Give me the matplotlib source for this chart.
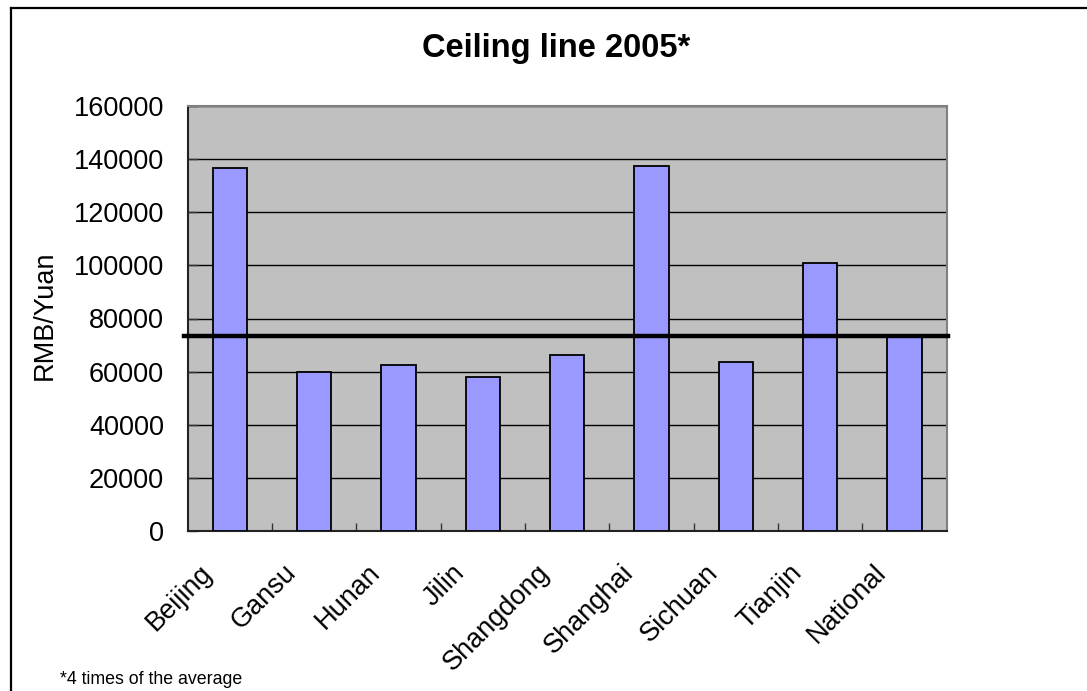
import matplotlib
matplotlib.use("Agg")
import matplotlib.pyplot as plt
from matplotlib.lines import Line2D
from matplotlib.transforms import ScaledTranslation
import numpy as np

categories = ["Beijing", "Gansu", "Hunan", "Jilin", "Shangdong", "Shanghai",
              "Sichuan", "Tianjin", "National"]
values = [136700, 59900, 62400, 58000, 66200, 137300, 63600, 100900, 73200]
ceiling = 73500
yticks = [0, 20000, 40000, 60000, 80000, 100000, 120000, 140000, 160000]

plt.rcParams['font.family'] = ['Liberation Sans', 'DejaVu Sans']

W, H = 1087, 691
fig = plt.figure(figsize=(W / 100, H / 100), dpi=100)
fig.patch.set_facecolor('white')

ax = fig.add_axes([187.7 / W, 1 - 531.3 / H, (946.7 - 187.7) / W, (531.3 - 105.7) / H])
ax.set_facecolor('#C0C0C0')

x = np.arange(len(categories))
ax.bar(x, values, width=0.41, color='#9999FF', edgecolor='black', linewidth=1.3, zorder=3)

ax.set_xlim(-0.5, len(categories) - 0.5)
ax.set_ylim(0, 160000)
ax.set_yticks(yticks)
ax.set_yticklabels([str(v) for v in yticks], fontsize=19.5)
ax.yaxis.grid(True, color='black', linewidth=1.0, zorder=1)
ax.set_axisbelow(True)

# ceiling line, slightly past the plot edges
ax.plot([-0.005, 1.002], [ceiling, ceiling], color='black', linewidth=3.2,
        transform=ax.get_yaxis_transform(), clip_on=False, zorder=5)

ax.tick_params(axis='y', direction='in', length=7, width=1.0, pad=17, color='#333333')
ax.set_xticks(x)
ax.set_xticks(np.arange(0.5, len(categories) - 0.5, 1.0), minor=True)
ax.tick_params(axis='x', which='major', length=0, pad=27)
ax.tick_params(axis='x', which='minor', direction='in', length=6, width=1.0, color='#333333')
ax.set_xticklabels(categories, fontsize=19.5, rotation=45, ha='right', va='center',
                   rotation_mode='anchor')
offset = ScaledTranslation(-22 / 100, 0, fig.dpi_scale_trans)
for lab in ax.get_xticklabels():
    lab.set_transform(lab.get_transform() + offset)

for s in ['top', 'right']:
    ax.spines[s].set_color('#808080')
    ax.spines[s].set_linewidth(1.5)
for s in ['left', 'bottom']:
    ax.spines[s].set_color('#222222')
    ax.spines[s].set_linewidth(1.5)

fig.text(556 / W, 1 - 49 / H, "Ceiling line 2005*", fontsize=23.5, fontweight='bold',
         ha='center', va='center')
fig.text(45 / W, 1 - 315 / H, "RMB/Yuan", fontsize=19.5, rotation=90,
         ha='center', va='center')
fig.text(60 / W, 1 - 684 / H, "*4 times of the average", fontsize=12.8,
         ha='left', va='baseline')

# outer frame (top and left edges visible)
fig.add_artist(Line2D([10.5 / W, 1.0], [1 - 7.5 / H, 1 - 7.5 / H], color='black',
                      linewidth=1.6, transform=fig.transFigure))
fig.add_artist(Line2D([10.5 / W, 10.5 / W], [0, 1 - 7.5 / H], color='black',
                      linewidth=1.6, transform=fig.transFigure))

fig.savefig("out.png", dpi=100)
